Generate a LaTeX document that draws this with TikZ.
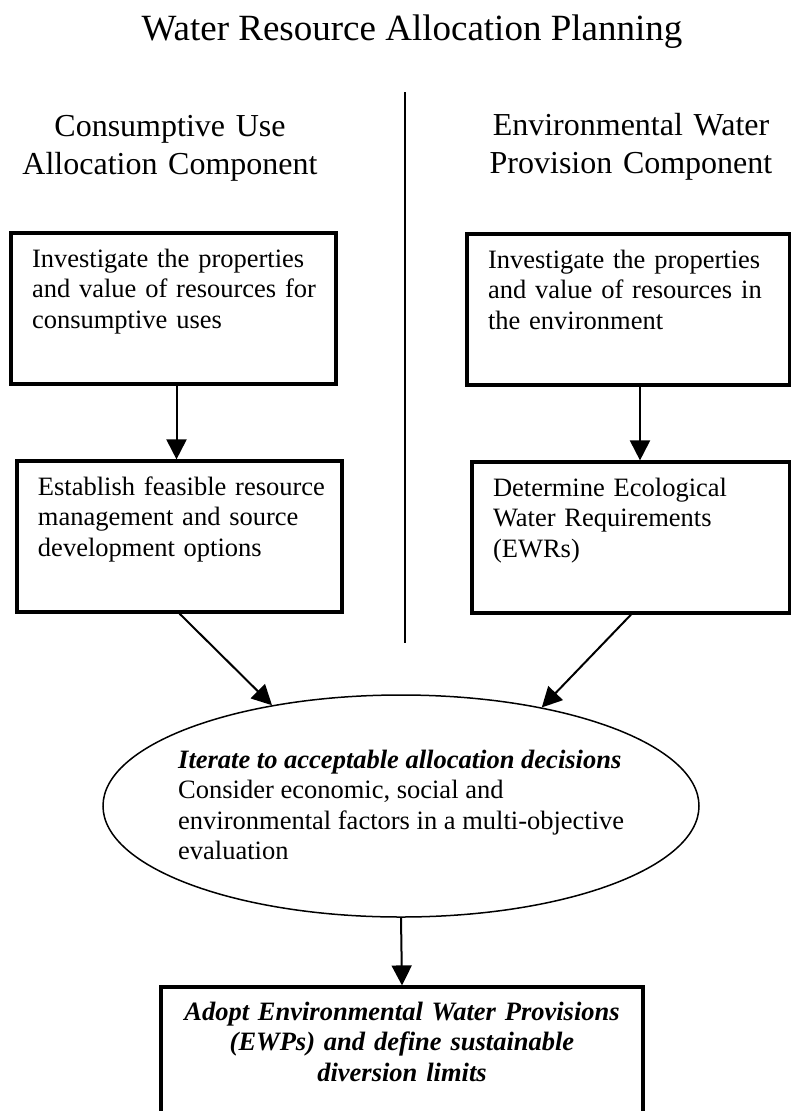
\documentclass[tikz,border=0pt]{standalone}
\usepackage{fontspec}
\setmainfont{Liberation Serif}
\usetikzlibrary{arrows.meta}
\usetikzlibrary{shapes}
\newcommand{\boxfont}{\fontsize{26.5}{30.5}\selectfont}
\newcommand{\hdrfont}{\fontsize{32}{38}\selectfont}
\newcommand{\ttlfont}{\fontsize{37}{44}\selectfont}
\newcommand{\leftlines}[1]{\begin{tabular}[t]{@{}l@{}}#1\end{tabular}}
\newcommand{\midlines}[1]{\begin{tabular}[t]{@{}c@{}}#1\end{tabular}}

\begin{document}
\begin{tikzpicture}[x=1pt,y=-1pt,
  stepbox/.style={draw,line width=3.2pt,anchor=north west,inner xsep=21pt,inner ysep=0pt,text width=283pt,text height=34pt,text depth=117pt,font=\boxfont},
  header/.style={anchor=base,inner sep=0pt,text width=360pt,align=center,font=\hdrfont},
  arr/.style={line width=2pt,-{Triangle[length=20pt,width=20pt]}}]
  \useasboundingbox (0,0) rectangle (791,1111);

  % title and the two column heads
  \node[anchor=base,inner sep=0pt,font=\ttlfont] (title) at (412,40) {Water Resource Allocation Planning};
  \node[header] (conshdr) at (170,136) {Consumptive Use\\Allocation Component};
  \node[header] (envhdr) at (631,135) {Environmental Water\\Provision Component};

  % divider between the columns
  \coordinate (divtop) at (405,92);
  \coordinate (divbot) at (405,643);
  \draw[line width=2pt] (divtop) -- (divbot);

  % consumptive use column
  \node[stepbox] (cons1) at (9.4,231.4) {\leftlines{Investigate the properties\\and value of resources for\\consumptive uses}};
  \node[stepbox] (cons2) at (15.4,459.4) {\leftlines{Establish feasible resource\\management and source\\development options}};

  % environmental column
  \node[stepbox,text width=281pt] (env1) at (465.4,232.4) {\leftlines{Investigate the properties\\and value of resources in\\the environment}};
  \node[stepbox,text width=276pt] (env2) at (470.4,460.4) {\leftlines{Determine Ecological\\Water Requirements\\(EWRs)}};

  % evaluation
  \node[ellipse,draw,line width=1.5pt,inner sep=0pt,minimum width=596pt,minimum height=222pt] (decide) at (401,806) {};
  \node[anchor=base west,inner sep=0pt,font=\boxfont] (decidetxt) at (178,768)
    {\leftlines{\textbf{\textit{Iterate to acceptable allocation decisions}}\\Consider economic, social and\\environmental factors in a multi-objective\\evaluation}};

  % outcome
  \node[stepbox,text width=440pt,align=center,text height=33pt,font=\boxfont\bfseries\itshape] (adopt) at (159.4,985.4)
    {\midlines{Adopt Environmental Water Provisions\\(EWPs) and define sustainable\\diversion limits}};

  \draw[arr] ([xshift=3pt]cons1.south) -- ([xshift=3pt]cons1.south |- cons2.north);
  \draw[arr] ([xshift=11.5pt]env1.south) -- ([xshift=11.5pt]env1.south |- env2.north);
  \draw[arr] (cons2.south) -- (decide.142.8);
  \draw[arr] (env2.south) -- (decide.35.3);
  \draw[arr] (decide.south) -- (adopt.north);
\end{tikzpicture}
\end{document}
